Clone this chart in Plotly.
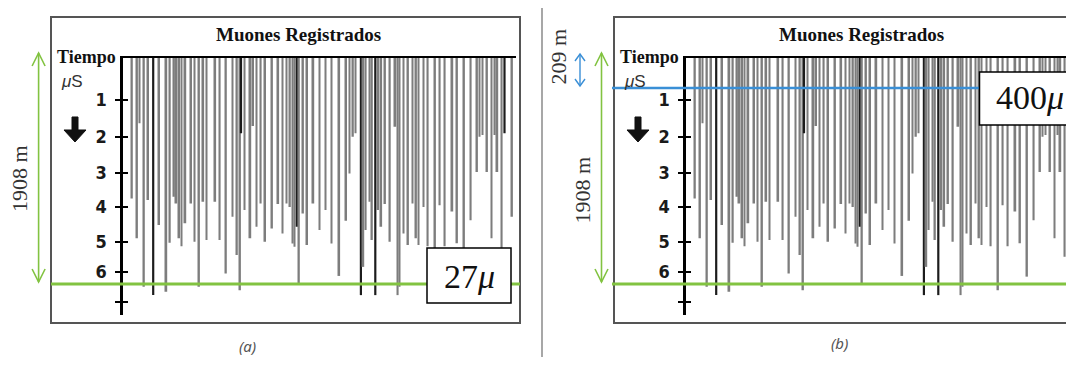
import plotly.graph_objects as go

# ---------------- data ----------------
# horizontal position of each registered muon trace (arbitrary units, 1 unit ~ 1 px of plot width)
X_POS = [9.4, 14.5, 17.0, 21.4, 25.6, 30.7, 36.6, 43.8, 47.3, 51.4, 53.8, 56.6, 59.0, 62.8,
         68.6, 72.0, 76.5, 80.7, 84.1, 92.7, 97.2, 103.4, 109.9, 114.4, 117.5, 118.5, 122.0,
         127.8, 130.6, 134.0, 138.2, 142.6, 149.5, 155.7, 159.9, 164.0, 167.4, 170.2, 171.9,
         174.3, 176.4, 180.5, 184.6, 190.8, 197.0, 202.9, 209.1, 216.7, 223.6, 227.0, 230.4,
         232.9, 238.4, 240.8, 243.2, 247.0, 249.4, 252.8, 255.6, 258.7, 262.5, 267.3, 272.8,
         275.2, 276.9, 281.1, 285.5, 290.0, 293.5, 295.9, 301.0, 305.2, 312.5, 317.2, 322.2,
         329.8, 334.5, 341.5, 348.2, 354.5, 357.0, 360.0, 364.5, 369.0, 372.2, 374.8, 379.2,
         382.0, 389.5]
# depth reached by each trace (axis units)
DEPTH = [4.03, 5.17, 1.87, 6.56, 4.07, 6.80, 4.79, 6.70, 5.30, 3.98, 4.17, 5.17, 5.40, 4.74,
         4.17, 5.27, 6.56, 4.12, 5.22, 4.12, 5.22, 6.18, 4.55, 5.65, 6.66, 2.16, 4.36,
         5.17, 1.95, 4.84, 4.17, 5.27, 4.89, 4.19, 5.03, 4.17, 4.27, 5.32, 5.41,
         4.84, 6.51, 4.46, 5.36, 4.17, 4.93, 4.36, 5.32, 6.25, 4.67, 3.31, 2.26,
         2.16, 6.80, 5.99, 4.93, 4.12, 5.22, 6.80, 4.36, 4.84, 4.19, 5.27, 1.97,
         6.80, 6.56, 5.03, 5.36, 4.17, 5.17, 5.36, 4.27, 5.40, 6.66, 4.22, 5.40,
         4.40, 5.31, 6.27, 4.65, 3.27, 2.26, 2.21, 3.27, 5.17, 2.21, 3.27, 5.70,
         2.16, 4.55]
DARK = {5, 25, 39, 52, 57, 87}   # indices of the darker (black) traces

TICK_POS = [1.20, 2.27, 3.30, 4.27, 5.28, 6.14, 7.0]
TICK_TEXT = ["1", "2", "3", "4", "5", "6", ""]

GREEN_LEVEL = 6.48
BLUE_LEVEL = 0.86
LABEL_A = "27<i>μ</i>"
LABEL_B = "400<i>μ</i>"

# ---------------- layout helpers ----------------
# the page body has an 8 px margin: the figure is placed at (8, 8)
OFF = 8
W, H = 1074 - OFF, 365 - 2 * OFF
def px(x): return (x - OFF) / W
def py(y): return 1 - (y - OFF) / H

YR = [7.37, 0]
YDOM = [py(315), py(58)]
SERIF = "Liberation Serif, Times New Roman, serif"
GREEN = "#82c341"
BLUE = "#3a8fd6"

colors = ["#1c1c1c" if i in DARK else "#7d7d7d" for i in range(len(X_POS))]
widths = [2.2 if i in DARK else 1.8 for i in range(len(X_POS))]

fig = go.Figure()
for xa, ya, yo in (("x", "y", "y3"), ("x2", "y2", "y4")):
    fig.add_trace(go.Bar(x=X_POS, y=DEPTH, width=widths, xaxis=xa, yaxis=ya,
                         marker=dict(color=colors, line=dict(width=0)),
                         showlegend=False, hoverinfo="skip"))
    fig.add_trace(go.Scatter(x=[X_POS[0]], y=[DEPTH[0]], xaxis=xa, yaxis=yo, mode="markers",
                             marker=dict(opacity=0), showlegend=False, hoverinfo="skip"))

tickfont = dict(family="Liberation Sans Narrow, DejaVu Sans Condensed, Arial Narrow, sans-serif",
                size=18, color="#1a1a1a", weight="bold")

def xax(dom, rng, anchor):
    return dict(domain=dom, range=rng, anchor=anchor, side="top", showline=True,
                linecolor="black", linewidth=2, showticklabels=False, ticks="",
                showgrid=False, zeroline=False, fixedrange=True)

def yax(anchor):
    return dict(domain=YDOM, range=YR, anchor=anchor, showline=True, linecolor="black",
                linewidth=3, ticks="outside", ticklen=5, tickwidth=2, tickcolor="black",
                tickvals=TICK_POS, ticktext=TICK_TEXT, tickfont=tickfont,
                ticklabelstandoff=4, showgrid=False, zeroline=False)

def yov(over, anchor):
    return dict(overlaying=over, anchor=anchor, range=YR, side="left", ticks="inside",
                ticklen=5, tickwidth=2, tickcolor="black", tickvals=TICK_POS,
                showticklabels=False, showline=False, showgrid=False, zeroline=False)

shapes = []
annotations = []

def line(x0, y0, x1, y1, color, width):
    shapes.append(dict(type="line", xref="paper", yref="paper", x0=px(x0), y0=py(y0),
                       x1=px(x1), y1=py(y1), line=dict(color=color, width=width)))

def path(pts, color, width, fill=None):
    d = "M " + " L ".join(f"{px(a):.5f},{py(b):.5f}" for a, b in pts)
    if fill:
        d += " Z"
    shapes.append(dict(type="path", xref="paper", yref="paper", path=d,
                       line=dict(color=color, width=width),
                       fillcolor=fill if fill else "rgba(0,0,0,0)"))

def dbl_arrow(x, y0, y1, color, hw, hh, width=1.6):
    line(x, y0, x, y1, color, width)
    path([(x - hw, y0 + hh), (x, y0), (x + hw, y0 + hh)], color, width)
    path([(x - hw, y1 - hh), (x, y1), (x + hw, y1 - hh)], color, width)

def text(x, y, s, size, family=SERIF, color="#222", angle=0, bold=False, italic=False):
    annotations.append(dict(x=px(x), y=py(y), xref="paper", yref="paper", text=s,
                            showarrow=False, xanchor="center", yanchor="middle",
                            textangle=angle,
                            font=dict(family=family, size=size, color=color,
                                      weight="bold" if bold else "normal",
                                      style="italic" if italic else "normal")))

# separator
line(542, 8, 542, 357, "#8a8a8a", 1.5)

for dx, fright in ((0, 520), (563, 1090)):
    # frame
    shapes.append(dict(type="rect", xref="paper", yref="paper", x0=px(51 + dx), x1=px(fright),
                       y0=py(323), y1=py(17), line=dict(color="#555555", width=2),
                       fillcolor="rgba(0,0,0,0)", layer="below"))
    text(298 + dx, 35, "Muones Registrados", 19, bold=True, color="#111")
    text(86 + dx, 57, "Tiempo", 18, bold=True, color="#111")
    text(72 + dx, 81, "<i>μ</i>S", 17, color="#333", family="Liberation Sans, Arial, sans-serif")
    # down arrow
    path([(72 + dx, 117), (78 + dx, 117), (78 + dx, 130), (86 + dx, 130), (75 + dx, 142),
          (64 + dx, 130), (72 + dx, 130)], "#111", 1, fill="#111")

# green reference lines
shapes.append(dict(type="line", xref="paper", yref="y", x0=px(51), x1=px(520),
                   y0=GREEN_LEVEL, y1=GREEN_LEVEL, line=dict(color=GREEN, width=3)))
shapes.append(dict(type="line", xref="paper", yref="y2", x0=px(612), x1=1.0,
                   y0=GREEN_LEVEL, y1=GREEN_LEVEL, line=dict(color=GREEN, width=3)))
# blue reference line
shapes.append(dict(type="line", xref="paper", yref="y2", x0=px(612), x1=px(980),
                   y0=BLUE_LEVEL, y1=BLUE_LEVEL, line=dict(color=BLUE, width=2.5)))

# arrows and distance labels
dbl_arrow(38.6, 53, 282, GREEN, 6.5, 13)
text(19, 179, "1908 m", 22, angle=-90, color="#333")
dbl_arrow(601.5, 53, 282, GREEN, 6.5, 13)
text(582.5, 190, "1908 m", 22, angle=-90, color="#333")
dbl_arrow(580, 54, 86, BLUE, 5, 7, width=1.4)
text(558.5, 57, "209 m", 22, angle=-90, color="#333")

# boxes
shapes.append(dict(type="rect", xref="paper", yref="paper", x0=px(427), x1=px(511),
                   y0=py(303), y1=py(248), line=dict(color="black", width=1.5), fillcolor="white"))
text(469, 276, LABEL_A, 34, color="#111")
shapes.append(dict(type="rect", xref="paper", yref="paper", x0=px(979.5), x1=px(1090),
                   y0=py(125), y1=py(72), line=dict(color="black", width=1.5), fillcolor="white"))
text(1030, 98, LABEL_B, 34, color="#111")

# sub-figure labels
text(247, 346, "(a)", 15, family="Noto Sans, Open Sans, sans-serif", color="#555", italic=True)
text(839, 343, "(b)", 15, family="Noto Sans, Open Sans, sans-serif", color="#555", italic=True)

fig.update_layout(
    width=W, height=H, margin=dict(l=0, r=0, t=0, b=0),
    paper_bgcolor="white", plot_bgcolor="rgba(0,0,0,0)",
    barmode="overlay", showlegend=False,
    xaxis=xax([px(122.5), px(515.5)], [0, 393], "y"),
    yaxis=yax("x"),
    yaxis3=yov("y", "x"),
    xaxis2=xax([px(685.5), 1.0], [0, 388.5], "y2"),
    yaxis2=yax("x2"),
    yaxis4=yov("y2", "x2"),
    shapes=shapes, annotations=annotations,
)

fig.write_html("out.html")
